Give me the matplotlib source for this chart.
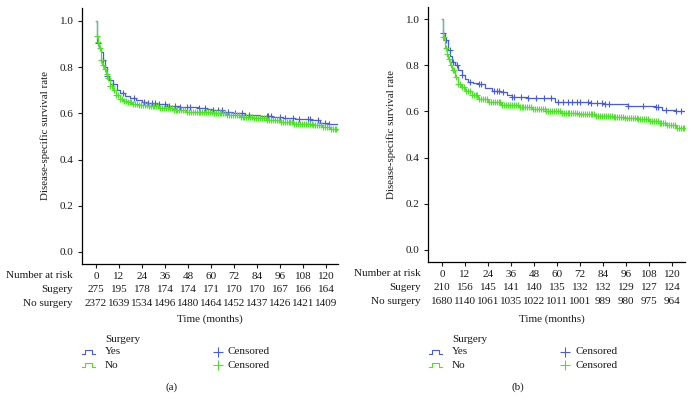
import numpy as np
import matplotlib
matplotlib.use("Agg")
import matplotlib.pyplot as plt
from matplotlib.lines import Line2D
import matplotlib.transforms as mtransforms

plt.rcParams['font.family'] = ['Liberation Serif', 'DejaVu Serif']

BLUE = '#4a5fcf'
GREEN = '#4ee02a'
TXT = '#1a1a1a'

time_ticks = [0, 12, 24, 36, 48, 60, 72, 84, 96, 108, 120]

# panel (a)
yes_t_a = [0, 0.5, 1.5, 2.5, 3.5, 4.5, 5.5, 7, 9, 11, 12.5, 15, 17.5, 21, 24, 26.5, 32, 37, 44,
           54, 58, 61, 66, 71.5, 78, 85.6, 92, 97.6, 104, 111.7, 117, 121, 126]
yes_s_a = [1.0, 0.906, 0.885, 0.865, 0.83, 0.80, 0.76, 0.745, 0.726, 0.70, 0.687, 0.675, 0.665, 0.656,
           0.648, 0.643, 0.64, 0.63, 0.627, 0.625, 0.62, 0.613, 0.607, 0.60, 0.595, 0.59, 0.585, 0.58,
           0.575, 0.572, 0.56, 0.556, 0.556]
yes_cens_a = [1, 3.5, 6, 9, 14, 20, 25, 27, 29, 31, 33, 36, 38, 41, 44, 47.5, 49, 54, 57, 61, 63.7,
              65.7, 68.9, 72.5, 76, 80, 89, 90, 91.3, 96, 98.6, 102.8, 106, 110.6, 111.5, 115.8,
              119.5, 121.6]
no_t_a = [0, 0.3, 1, 1.8, 2.5, 3.2, 4, 5, 6, 7.5, 9, 10.5, 12.5, 14, 16, 19, 22, 27, 33, 40, 47,
          54, 61, 68, 75, 82, 89, 96, 103, 108, 113, 118, 122, 126]
no_s_a = [1.0, 0.935, 0.91, 0.885, 0.83, 0.81, 0.79, 0.77, 0.755, 0.72, 0.70, 0.68, 0.66, 0.652,
          0.647, 0.64, 0.635, 0.63, 0.625, 0.615, 0.608, 0.604, 0.60, 0.592, 0.585, 0.578, 0.57,
          0.563, 0.556, 0.552, 0.548, 0.54, 0.533, 0.53]
no_cens_a = [0.4, 1.2, 2, 2.8, 3.6, 4.5, 5.5, 6.5, 7.5, 8.5, 9.5, 10.5, 11.5, 12.5, 13.5, 14.5,
             15.5, 16.5, 17.5, 18.5, 19.5, 20.5, 21.5, 22.5, 23.5, 24.5, 25.5, 26.5, 27.5, 28.5,
             29.5, 30.5, 31.5, 32.5, 33.5, 34.5, 35.5, 36.5, 37.5, 38.5, 39.5, 40.5, 41.5, 42.5,
             43.5, 44.5, 45.5, 46.5, 47.5, 48.5, 49.5, 50.5, 51.5, 52.5, 53.5, 54.5, 55.5, 56.5,
             57.5, 58.5, 59.5, 60.5, 61.5, 62.5, 63.5, 64.5, 65.5, 66.5, 67.5, 68.5, 69.5, 70.5,
             71.5, 72.5, 73.5, 74.5, 75.5, 76.5, 77.5, 78.5, 79.5, 80.5, 81.5, 82.5, 83.5, 84.5,
             85.5, 86.5, 87.5, 88.5, 89.5, 90.5, 91.5, 92.5, 93.5, 94.5, 95.5, 96.5, 97.5, 98.5,
             99.5, 100.5, 101.5, 102.5, 103.5, 104.5, 105.5, 106.5, 107.5, 108.5, 109.5, 110.5,
             111.5, 112.5, 113.5, 114.5, 115.5, 116.5, 117.5, 118.5, 119.5, 120.5, 121.5, 122.5,
             123.5, 124.5, 125.5]
risk_yes_a = [275, 195, 178, 174, 174, 171, 170, 170, 167, 166, 164]
risk_no_a = [2372, 1639, 1534, 1496, 1480, 1464, 1452, 1437, 1426, 1421, 1409]

# panel (b)
yes_t_b = [0, 0.3, 1.6, 3.3, 4.2, 5, 6.8, 8.5, 10.3, 12, 13.7, 16, 19, 22.4, 26, 31, 34, 36.4,
           45, 53.8, 59, 71, 78, 85, 97, 111, 115, 122, 127]
yes_s_b = [1.0, 0.94, 0.91, 0.866, 0.84, 0.815, 0.80, 0.78, 0.758, 0.74, 0.727, 0.722, 0.72, 0.70,
           0.69, 0.685, 0.672, 0.663, 0.657, 0.657, 0.64, 0.64, 0.636, 0.632, 0.623, 0.62, 0.606,
           0.60, 0.60]
yes_cens_b = [0.5, 2, 4, 6, 8, 10.5, 14.5, 19.5, 20.5, 27, 28.5, 30, 32, 36.5, 37.5, 41, 45, 49, 53,
              57, 60.5, 63, 65.7, 67.8, 70.4, 72, 76, 78, 81, 83.5, 85, 87, 97, 105, 111.5, 112.6,
              117, 122, 124.7]
no_t_b = [0, 0.3, 1.6, 2.5, 3.3, 4.2, 5, 6.8, 8.5, 10, 12, 15.5, 19, 24, 31, 40, 47, 53.8, 62, 71,
          80, 88.6, 95, 102, 108, 112.6, 117, 122, 127]
no_s_b = [1.0, 0.922, 0.874, 0.85, 0.826, 0.80, 0.78, 0.75, 0.72, 0.705, 0.69, 0.67, 0.655, 0.64,
          0.628, 0.618, 0.61, 0.60, 0.594, 0.588, 0.58, 0.575, 0.57, 0.565, 0.558, 0.55, 0.54, 0.53,
          0.52]
no_cens_b = [0.4, 1.2, 2, 2.8, 3.6, 4.5, 5.5, 6.5, 7.5, 8.5, 9.5, 10.5, 11.5, 12.5, 13.5, 14.5,
             15.5, 16.5, 17.5, 18.5, 19.5, 20.5, 21.5, 22.5, 23.5, 24.5, 25.5, 26.5, 27.5, 28.5,
             29.5, 30.5, 31.5, 32.5, 33.5, 34.5, 35.5, 36.5, 37.5, 38.5, 39.5, 40.5, 41.5, 42.5,
             43.5, 44.5, 45.5, 46.5, 47.5, 48.5, 49.5, 50.5, 51.5, 52.5, 53.5, 54.5, 55.5, 56.5,
             57.5, 58.5, 59.5, 60.5, 61.5, 62.5, 63.5, 64.5, 65.5, 66.5, 67.5, 68.5, 69.5, 70.5,
             71.5, 72.5, 73.5, 74.5, 75.5, 76.5, 77.5, 78.5, 79.5, 80.5, 81.5, 82.5, 83.5, 84.5,
             85.5, 86.5, 87.5, 88.5, 89.5, 90.5, 91.5, 92.5, 93.5, 94.5, 95.5, 96.5, 97.5, 98.5,
             99.5, 100.5, 101.5, 102.5, 103.5, 104.5, 105.5, 106.5, 107.5, 108.5, 109.5, 110.5,
             111.5, 112.5, 113.5, 114.5, 115.5, 116.5, 117.5, 118.5, 119.5, 120.5, 121.5, 122.5,
             123.5, 124.5, 125.5, 126.5]
risk_yes_b = [210, 156, 145, 141, 140, 135, 132, 132, 129, 127, 124]
risk_no_b = [1680, 1140, 1061, 1035, 1022, 1011, 1001, 989, 980, 975, 964]

W, H = 693, 409
FS = 8
fig = plt.figure(figsize=(W / 100, H / 100), dpi=100)


def px(x, y):
    return x / W, 1 - y / H


def step_at(t, s, q):
    idx = np.searchsorted(t, q, side='right') - 1
    return np.asarray(s)[idx]


def panel(rect, xlim, ylim, curves, risk_yes, risk_no, lab_x, row_y, tl_x, cap_x, cap, leg_x):
    l, r, b, t = rect
    ax = fig.add_axes([l / W, 1 - b / H, (r - l) / W, (b - t) / H])
    for tt, ss, cc, col, ms in curves:
        ax.step(tt, ss, where='post', color=col, lw=0.9)
        ax.plot(cc, step_at(tt, ss, cc), ls='none', marker='+', ms=ms, mew=0.8, color=col)
    ax.set_xlim(*xlim)
    ax.set_ylim(*ylim)
    for sp in ['top', 'right']:
        ax.spines[sp].set_visible(False)
    ax.spines['left'].set_linewidth(0.9)
    ax.spines['bottom'].set_linewidth(0.9)
    ax.set_yticks([0.0, 0.2, 0.4, 0.6, 0.8, 1.0])
    ax.set_yticklabels(['0.0', '0.2', '0.4', '0.6', '0.8', '1.0'])
    ax.set_xticks(time_ticks)
    ax.set_xticklabels([str(v) for v in time_ticks])
    ax.tick_params(length=3, width=0.8, labelsize=FS, colors=TXT, pad=3)
    ax.set_ylabel('Disease-specific survival rate', fontsize=7.8, color=TXT, labelpad=7)
    trans = mtransforms.blended_transform_factory(ax.transData, fig.transFigure)
    for x, a, c in zip(time_ticks, risk_yes, risk_no):
        ax.text(x, px(0, row_y[1])[1], str(a), transform=trans, ha='center', va='center',
                fontsize=FS, color=TXT)
        ax.text(x, px(0, row_y[2])[1], str(c), transform=trans, ha='center', va='center',
                fontsize=FS, color=TXT)
    for lab, y in zip(['Number at risk', 'Sugery', 'No surgery'], row_y):
        fig.text(*px(lab_x, y), lab, ha='right', va='center', fontsize=FS, color=TXT)
    fig.text(*px(tl_x, 319), 'Time (months)', ha='center', va='center', fontsize=FS, color=TXT)
    fig.text(*px(cap_x, 387), cap, ha='center', va='center', fontsize=FS, color=TXT)
    # legend
    ix, tx, cx = leg_x
    fig.text(*px(tx, 339), 'Surgery', ha='left', va='center', fontsize=FS, color=TXT)
    for y, col, name in [(352, BLUE, 'Yes'), (365, GREEN, 'No')]:
        xs = [ix, ix + 3, ix + 3, ix + 10, ix + 10, ix + 13]
        ys = [y + 2, y + 2, y - 2, y - 2, y + 2, y + 2]
        fig.add_artist(Line2D([v / W for v in xs], [1 - v / H for v in ys], color=col, lw=0.8))
        fig.text(*px(tx, y), name, ha='left', va='center', fontsize=FS, color=TXT)
        fig.add_artist(Line2D([cx / W], [1 - y / H], marker='+', ms=7, mew=0.8, color=col))
        fig.text(*px(cx + 10, y), 'Censored', ha='left', va='center', fontsize=FS, color=TXT)
    return ax


panel((82, 338, 264, 8), (-7.3, 126.3), (-0.052, 1.056),
      [(yes_t_a, yes_s_a, yes_cens_a, BLUE, 4.5), (no_t_a, no_s_a, no_cens_a, GREEN, 4)],
      risk_yes_a, risk_no_a, 73, (276, 289, 303), 210, 172, '(a)', (82, 105, 218))
panel((428, 685, 262, 7), (-7.3, 126.8), (-0.052, 1.052),
      [(yes_t_b, yes_s_b, yes_cens_b, BLUE, 4.5), (no_t_b, no_s_b, no_cens_b, GREEN, 4)],
      risk_yes_b, risk_no_b, 421, (273, 288, 301), 552, 518, '(b)', (429, 452, 565))

fig.savefig('out.png', dpi=100)
